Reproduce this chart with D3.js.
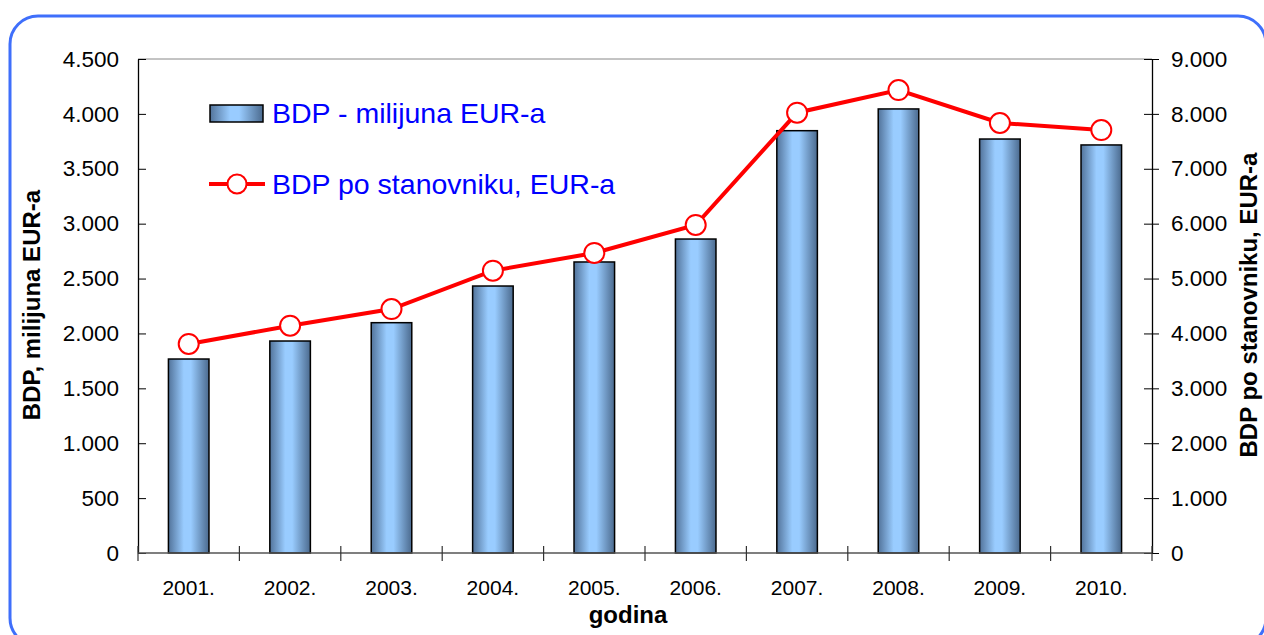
<!DOCTYPE html>
<html>
<head>
<meta charset="utf-8">
<script src="https://cdn.jsdelivr.net/npm/d3@7"></script>
<style>
    body { margin: 0; background: #fff; }
    svg { display: block; font-family: "Liberation Sans", Arial, sans-serif; }
</style>
</head>
<body>
<div id="chart"></div>
<script>
const years = ['2001.', '2002.', '2003.', '2004.', '2005.', '2006.', '2007.', '2008.', '2009.', '2010.'];
const bdpMil = [1767, 1931, 2098, 2432, 2651, 2860, 3847, 4045, 3771, 3717];
const bdpPerCapita = [3808, 4141, 4445, 5143, 5466, 5976, 8022, 8435, 7834, 7706];
const leftTicks = [0, 500, 1000, 1500, 2000, 2500, 3000, 3500, 4000, 4500];
const rightTicks = [0, 1000, 2000, 3000, 4000, 5000, 6000, 7000, 8000, 9000];
const seriesNames = ['BDP - milijuna EUR-a', 'BDP po stanovniku, EUR-a'];

const width = 1264, height = 635;
const margin = {top: 59, right: 112, bottom: 82, left: 138};

const svg = d3.select('#chart')
    .append('svg')
    .attr('width', width)
    .attr('height', height);

// bar gradient
const grad = svg.append('defs').append('linearGradient')
    .attr('id', 'barGrad')
    .attr('x1', '0%').attr('x2', '100%').attr('y1', '0%').attr('y2', '0%');
[['0%', '#52739a'], ['38%', '#99ccff'], ['55%', '#99ccff'], ['100%', '#4b6a8e']]
    .forEach(s => grad.append('stop').attr('offset', s[0]).attr('stop-color', s[1]));

// outer rounded frame
svg.append('rect')
    .attr('x', 10).attr('y', 16)
    .attr('width', 1256).attr('height', 630)
    .attr('rx', 28)
    .attr('fill', 'none')
    .attr('stroke', '#3f6ffb')
    .attr('stroke-width', 3);

const x = d3.scaleBand()
    .domain(years)
    .range([margin.left, width - margin.right])
    .paddingInner(0.6)
    .paddingOuter(0.3);

const yL = d3.scaleLinear().domain([0, 4500]).range([height - margin.bottom, margin.top]);
const yR = d3.scaleLinear().domain([0, 9000]).range([height - margin.bottom, margin.top]);

// top border of plot area
svg.append('line')
    .attr('x1', margin.left).attr('x2', width - margin.right)
    .attr('y1', margin.top).attr('y2', margin.top)
    .attr('stroke', '#888').attr('stroke-width', 1);

// bars
svg.append('g')
    .selectAll('rect')
    .data(bdpMil)
    .enter()
    .append('rect')
    .attr('x', (d, i) => x(years[i]))
    .attr('y', d => yL(d))
    .attr('width', x.bandwidth())
    .attr('height', d => yL(0) - yL(d))
    .attr('fill', 'url(#barGrad)')
    .attr('stroke', '#000')
    .attr('stroke-width', 1.5);

// axes
const styleAxis = (g) => {
    g.select('.domain').attr('stroke', '#000').attr('stroke-width', 1.3);
    g.selectAll('.tick text').attr('font-size', 22.5).attr('fill', '#000');
};

const fmt = d3.formatLocale({decimal: ',', thousands: '.', grouping: [3], currency: ['', '']}).format(',d');

svg.append('g')
    .attr('transform', `translate(${margin.left},0)`)
    .call(d3.axisLeft(yL).tickValues(leftTicks).tickFormat(fmt).tickSizeInner(7).tickSizeOuter(0).tickPadding(12))
    .call(styleAxis)
    .call(g => g.selectAll('.tick line').attr('x2', 8).attr('stroke', '#000'));

svg.append('g')
    .attr('transform', `translate(${width - margin.right},0)`)
    .call(d3.axisRight(yR).tickValues(rightTicks).tickFormat(fmt).tickSizeInner(7).tickSizeOuter(0).tickPadding(12))
    .call(styleAxis)
    .call(g => g.selectAll('.tick line').attr('x2', -8).attr('x1', 7).attr('stroke', '#000'));

// category axis: ticks between categories
const step = x.step();
const bottom = svg.append('g')
    .attr('transform', `translate(0,${height - margin.bottom})`);
bottom.append('line')
    .attr('x1', margin.left).attr('x2', width - margin.right)
    .attr('stroke', '#555').attr('stroke-width', 1.5);
bottom.selectAll('.sep')
    .data(d3.range(years.length + 1))
    .enter()
    .append('line')
    .attr('x1', i => margin.left + i * step)
    .attr('x2', i => margin.left + i * step)
    .attr('y1', -7).attr('y2', 8)
    .attr('stroke', '#333').attr('stroke-width', 1.2);
bottom.selectAll('.lbl')
    .data(years)
    .enter()
    .append('text')
    .attr('x', d => x(d) + x.bandwidth() / 2)
    .attr('y', 42)
    .attr('text-anchor', 'middle')
    .attr('font-size', 21)
    .text(d => d);

// line
const line = d3.line()
    .x((d, i) => x(years[i]) + x.bandwidth() / 2)
    .y(d => yR(d));

svg.append('path')
    .datum(bdpPerCapita)
    .attr('d', line)
    .attr('fill', 'none')
    .attr('stroke', '#ff0000')
    .attr('stroke-width', 4);

svg.append('g')
    .selectAll('circle')
    .data(bdpPerCapita)
    .enter()
    .append('circle')
    .attr('cx', (d, i) => x(years[i]) + x.bandwidth() / 2)
    .attr('cy', d => yR(d))
    .attr('r', 10)
    .attr('fill', '#fff')
    .attr('stroke', '#ff0000')
    .attr('stroke-width', 2);

// axis titles
svg.append('text')
    .attr('transform', `translate(40,305) rotate(-90)`)
    .attr('text-anchor', 'middle')
    .attr('font-size', 24)
    .attr('font-weight', 'bold')
    .text('BDP, milijuna EUR-a');

svg.append('text')
    .attr('transform', `translate(1257,305) rotate(-90)`)
    .attr('text-anchor', 'middle')
    .attr('font-size', 24)
    .attr('font-weight', 'bold')
    .text('BDP po stanovniku, EUR-a');

svg.append('text')
    .attr('x', 628)
    .attr('y', 623)
    .attr('text-anchor', 'middle')
    .attr('font-size', 24)
    .attr('font-weight', 'bold')
    .text('godina');

// legend
const legend = svg.append('g');
legend.append('rect')
    .attr('x', 210).attr('y', 105)
    .attr('width', 53).attr('height', 17)
    .attr('fill', 'url(#barGrad)')
    .attr('stroke', '#000').attr('stroke-width', 1.5);
legend.append('line')
    .attr('x1', 209).attr('x2', 265)
    .attr('y1', 184).attr('y2', 184)
    .attr('stroke', '#ff0000').attr('stroke-width', 4);
legend.append('circle')
    .attr('cx', 237).attr('cy', 184).attr('r', 9.5)
    .attr('fill', '#fff').attr('stroke', '#ff0000').attr('stroke-width', 2);
legend.selectAll('.lt')
    .data(seriesNames)
    .enter()
    .append('text')
    .attr('x', 272)
    .attr('y', (d, i) => 123 + i * 71)
    .attr('font-size', 28.5)
    .attr('fill', '#0000ff')
    .text(d => d);
</script>
</body>
</html>
